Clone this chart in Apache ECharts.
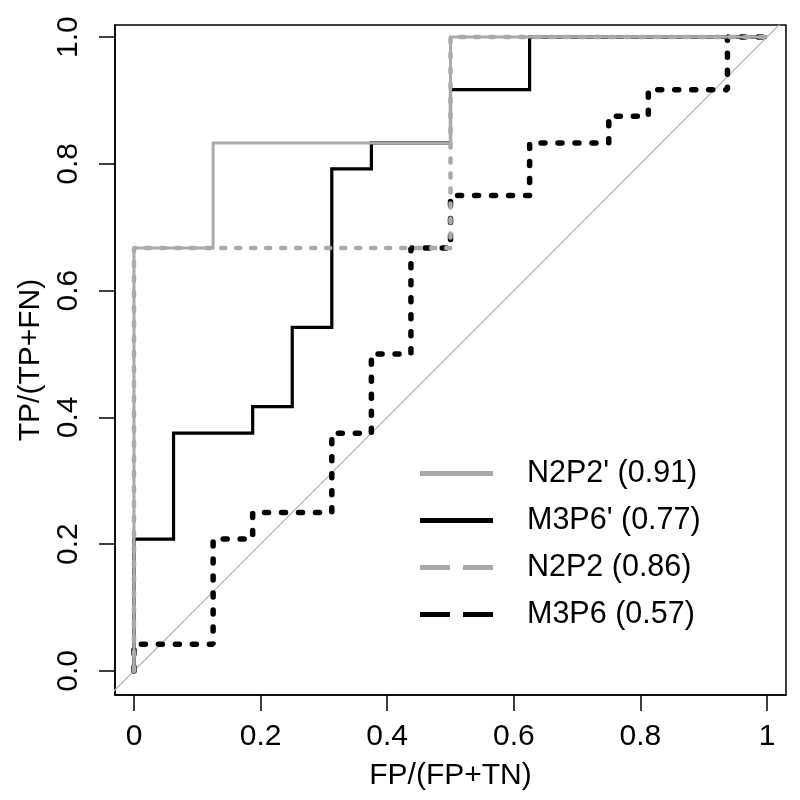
<!DOCTYPE html>
<html>
<head>
<meta charset="utf-8">
<script src="https://cdn.jsdelivr.net/npm/echarts@6/dist/echarts.min.js"></script>
<style>html,body{margin:0;padding:0;background:#fff}#c{width:800px;height:800px}</style>
</head>
<body>
<div id="c"></div>
<script>
// ---- data ----
const xTicks = [0, 0.2, 0.4, 0.6, 0.8, 1];
const yTicks = [0, 0.2, 0.4, 0.6, 0.8, 1];
const xTitle = "FP/(FP+TN)";
const yTitle = "TP/(TP+FN)";
const seriesNames = ["N2P2' (0.91)", "M3P6' (0.77)", "N2P2 (0.86)", "M3P6 (0.57)"];

const n2p2pFpr = [0, 0, 0.125, 0.125, 0.5, 0.5, 1];
const n2p2pTpr = [0, 0.667, 0.667, 0.833, 0.833, 1, 1];

const m3p6pFpr = [0, 0, 0.0625, 0.0625, 0.1875, 0.1875, 0.25, 0.25, 0.3125, 0.3125, 0.375, 0.375, 0.5, 0.5, 0.625, 0.625, 1];
const m3p6pTpr = [0, 0.208, 0.208, 0.375, 0.375, 0.417, 0.417, 0.542, 0.542, 0.792, 0.792, 0.833, 0.833, 0.917, 0.917, 1, 1];

const n2p2Fpr = [0, 0, 0.5, 0.5, 1];
const n2p2Tpr = [0, 0.667, 0.667, 1, 1];

const m3p6Fpr = [0, 0, 0.125, 0.125, 0.1875, 0.1875, 0.3125, 0.3125, 0.375, 0.375, 0.4375, 0.4375, 0.5, 0.5, 0.625, 0.625, 0.75, 0.75, 0.8125, 0.8125, 0.9375, 0.9375, 1];
const m3p6Tpr = [0, 0.042, 0.042, 0.208, 0.208, 0.25, 0.25, 0.375, 0.375, 0.5, 0.5, 0.667, 0.667, 0.75, 0.75, 0.833, 0.833, 0.875, 0.875, 0.917, 0.917, 1, 1];

const diagX = [-0.2, 1.2];
const diagY = [-0.2, 1.2];

// ---- chart ----
const zip = (a, b) => a.map((v, i) => [v, b[i]]);
const FONT = "'Liberation Sans', Arial, Helvetica, sans-serif";
const GRAY = '#aaaaaa';
const SOLID_ICON = 'path://M0,0H73V5H0Z';
const DASH_ICON = 'path://M0,0H30V5H0Z M43,0H73V5H43Z';

const chart = echarts.init(document.getElementById('c'), null, {renderer: 'canvas'});
chart.setOption({
  animation: false,
  backgroundColor: '#ffffff',
  textStyle: {fontFamily: FONT},
  grid: {left: 115, right: 14, top: 25, bottom: 105, show: true, borderColor: '#000', borderWidth: 1.5, backgroundColor: 'transparent'},
  xAxis: {
    type: 'value', min: -0.03, max: 1.03, position: 'bottom',
    axisLine: {show: true, onZero: false, lineStyle: {color: '#000', width: 1.5}},
    splitLine: {show: false},
    axisTick: {show: true, inside: false, customValues: xTicks, length: 16, lineStyle: {color: '#000', width: 1.5}},
    axisLabel: {customValues: xTicks, margin: 27, fontSize: 30, color: '#000', fontFamily: FONT,
      formatter: v => (v === 0 ? '0' : v === 1 ? '1' : v.toFixed(1))},
    name: xTitle, nameLocation: 'middle', nameGap: 66,
    nameTextStyle: {fontSize: 30, color: '#000', fontFamily: FONT}
  },
  yAxis: {
    type: 'value', min: -0.038, max: 1.019, position: 'left',
    axisLine: {show: true, onZero: false, lineStyle: {color: '#000', width: 1.5}},
    splitLine: {show: false},
    axisTick: {show: true, inside: false, customValues: yTicks, length: 16, lineStyle: {color: '#000', width: 1.5}},
    axisLabel: {customValues: yTicks, margin: 31, rotate: 90, fontSize: 30, color: '#000', fontFamily: FONT,
      formatter: v => v.toFixed(1)},
    name: yTitle, nameLocation: 'middle', nameGap: 69, nameRotate: 90,
    nameTextStyle: {fontSize: 30, color: '#000', fontFamily: FONT}
  },
  legend: {
    orient: 'vertical', left: 415, top: 453,
    itemWidth: 73, itemHeight: 5, itemGap: 16,
    textStyle: {fontSize: 30.5, color: '#000', fontFamily: FONT, padding: [0, 0, 0, 29], lineHeight: 30},
    data: [
      {name: seriesNames[0], icon: SOLID_ICON, itemStyle: {color: GRAY}},
      {name: seriesNames[1], icon: SOLID_ICON, itemStyle: {color: '#000'}},
      {name: seriesNames[2], icon: DASH_ICON, itemStyle: {color: GRAY}},
      {name: seriesNames[3], icon: DASH_ICON, itemStyle: {color: '#000'}}
    ]
  },
  series: [
    {name: 'diag', type: 'line', data: zip(diagX, diagY), symbol: 'none', silent: true, clip: true,
     lineStyle: {color: '#b3b3b3', width: 1.2}, z: 1},
    {name: seriesNames[1], type: 'line', data: zip(m3p6pFpr, m3p6pTpr), symbol: 'none', clip: true,
     color: '#000', lineStyle: {color: '#000', width: 3.2, join: 'miter'}, z: 2},
    {name: seriesNames[3], type: 'line', data: zip(m3p6Fpr, m3p6Tpr), symbol: 'none', clip: true,
     color: '#000', lineStyle: {color: '#000', width: 5.5, type: [4, 13], cap: 'round'}, z: 3},
    {name: seriesNames[2], type: 'line', data: zip(n2p2Fpr, n2p2Tpr), symbol: 'none', clip: true,
     color: GRAY, lineStyle: {color: GRAY, width: 4.5, type: [4, 11], cap: 'round'}, z: 4},
    {name: seriesNames[0], type: 'line', data: zip(n2p2pFpr, n2p2pTpr), symbol: 'none', clip: true,
     color: GRAY, lineStyle: {color: GRAY, width: 3, join: 'miter'}, z: 5}
  ]
});
</script>
</body>
</html>
